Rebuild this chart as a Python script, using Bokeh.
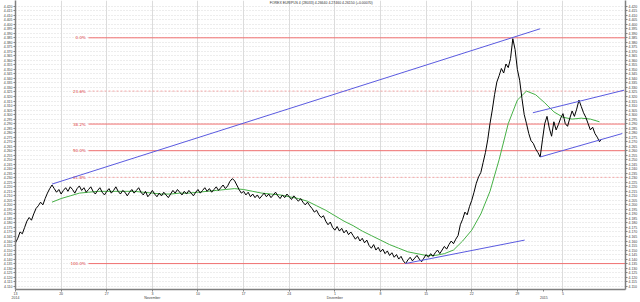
from bokeh.plotting import figure
from bokeh.models import (LinearAxis, Range1d, FixedTicker, Label,
                          PrintfTickFormatter)
from bokeh.embed import file_html
from bokeh.resources import INLINE
from bokeh.core.properties import value

TITLE = "FOREX EUR/PLN 4 (28033) 4.26640 4.27460 4.26150 (+0.00070)"

# ---- data (x = trading days since start, 0.25 day steps) ----
DAY_STEP = 0.25
price = [
    # rise at start
    4.158, 4.163, 4.170, 4.168, 4.175, 4.182, 4.186, 4.183, 4.190, 4.196,
    4.199, 4.203, 4.200, 4.207, 4.213, 4.218, 4.222,
    # sideways
    4.218, 4.214, 4.217, 4.212, 4.216, 4.219, 4.215, 4.220,
    4.217, 4.213, 4.218, 4.221, 4.216, 4.219, 4.214, 4.217,
    4.220, 4.215, 4.212, 4.216, 4.219, 4.214, 4.211, 4.215,
    4.218, 4.213, 4.216, 4.220, 4.215, 4.212, 4.216, 4.214,
    4.210, 4.214, 4.217, 4.213, 4.216, 4.219, 4.214, 4.211,
    4.215, 4.209, 4.212, 4.216, 4.212, 4.209, 4.213, 4.210,
    4.214, 4.211, 4.208, 4.212, 4.216, 4.213, 4.217, 4.214,
    4.211, 4.215, 4.212, 4.216, 4.213, 4.210, 4.214, 4.217,
    4.213, 4.216, 4.219, 4.215, 4.218, 4.214, 4.217, 4.220,
    4.216, 4.219, 4.222, 4.218, 4.221, 4.226, 4.229, 4.227,
    4.222, 4.217, 4.213, 4.215, 4.211, 4.214, 4.209, 4.212,
    4.208, 4.211, 4.207, 4.210, 4.213, 4.209, 4.212, 4.208,
    4.211, 4.214, 4.210, 4.207, 4.211, 4.208, 4.212, 4.209,
    4.206, 4.210, 4.207, 4.204, 4.207, 4.203, 4.200, 4.203,
    # decline
    4.199, 4.196, 4.192, 4.194, 4.189, 4.186, 4.188, 4.182,
    4.178, 4.181, 4.175, 4.172, 4.176, 4.171, 4.174, 4.169,
    4.172, 4.167, 4.170, 4.166, 4.162, 4.165, 4.160, 4.163,
    4.158, 4.161, 4.155, 4.152, 4.156, 4.150, 4.153, 4.148,
    4.151, 4.146, 4.149, 4.144, 4.147, 4.142, 4.145, 4.140,
    4.143, 4.138, 4.135, 4.139,
    # bottom
    4.142, 4.138, 4.141, 4.144, 4.140, 4.137, 4.141, 4.145,
    4.142, 4.146, 4.143, 4.147, 4.150, 4.146, 4.150, 4.154,
    4.151, 4.156, 4.160, 4.157, 4.162, 4.166,
    # rally
    4.178, 4.184, 4.192, 4.189, 4.198, 4.205, 4.214, 4.224,
    4.231, 4.236, 4.247, 4.258, 4.272, 4.290, 4.305, 4.322,
    4.336, 4.343, 4.351, 4.346, 4.356, 4.352, 4.362, 4.384,
    # drop
    4.372, 4.350, 4.338, 4.318, 4.300, 4.290, 4.279, 4.271,
    4.268, 4.262, 4.258, 4.253,
    # channel
    4.272, 4.290, 4.298, 4.285, 4.276, 4.292, 4.283, 4.289,
    4.296, 4.301, 4.290, 4.287, 4.296, 4.304, 4.298, 4.306,
    4.316, 4.309, 4.302, 4.297, 4.290, 4.283, 4.286, 4.279,
    4.275, 4.270, 4.273,
]
days = [i * DAY_STEP for i in range(len(price))]

ma_days = list(range(4, 65))
ma_values = [
    4.203, 4.207, 4.210, 4.213, 4.214, 4.215, 4.215, 4.215, 4.215, 4.215,
    4.214, 4.213, 4.212, 4.212, 4.213, 4.213, 4.214, 4.215, 4.216, 4.217,
    4.218, 4.217, 4.215, 4.213, 4.212, 4.211, 4.209, 4.207, 4.204, 4.199,
    4.194, 4.188, 4.182, 4.177, 4.171, 4.166, 4.161, 4.156, 4.152, 4.148,
    4.146, 4.144, 4.144, 4.146, 4.150, 4.160, 4.172, 4.190, 4.215, 4.250,
    4.290, 4.316, 4.326, 4.322, 4.313, 4.303, 4.297, 4.295, 4.296, 4.295,
    4.292,
]

week_ticks = [0, 5, 10, 15, 20, 25, 30, 35, 40, 45, 50, 55, 60]
week_labels = ["13", "20", "27", "3", "10", "17", "24", "1", "8", "15", "22", "29", "5"]
month_pos = [0, 15, 35, 57.9]
month_labels = ["2014", "November", "Dezember", "2015"]

y_tick_values = [round(4.100 + 0.005 * i, 3) for i in range(65)]

fib_high = 4.385
fib_low = 4.135
fib_pcts = [0.0, 23.6, 38.2, 50.0, 61.8, 100.0]
fib_labels = ["0.0%", "23.6%", "38.2%", "50.0%", "61.8%", "100.0%"]
fib_solid = [True, False, True, True, False, True]

trend_x0 = [4.0, 42.7, 56.7, 57.5]
trend_y0 = [4.223, 4.135, 4.302, 4.253]
trend_x1 = [57.5, 55.8, 66.7, 66.5]
trend_y1 = [4.395, 4.161, 4.327, 4.279]

X_MAX = 66.85
Y_MIN, Y_MAX = 4.1063, 4.4263
FIB_START = 8.0

# ---- figure ----
p = figure(width=640, height=302, output_backend="svg", toolbar_location=None,
           x_range=Range1d(0, X_MAX), y_range=Range1d(Y_MIN, Y_MAX),
           min_border_left=0, min_border_right=0, min_border_top=0,
           min_border_bottom=0, background_fill_color="white",
           border_fill_color="white", outline_line_color=None)

yt = FixedTicker(ticks=y_tick_values)
fmt = PrintfTickFormatter(format="%.3f")


def style_y(ax):
    ax.ticker = yt
    ax.formatter = fmt
    ax.major_label_text_font_size = "3.5px"
    ax.major_label_text_color = "#404040"
    ax.major_label_standoff = 1
    ax.major_tick_out = 2
    ax.major_tick_in = 0
    ax.minor_tick_out = 0
    ax.minor_tick_in = 0
    ax.major_tick_line_color = "#808080"
    ax.axis_line_color = "#808080"
    ax.axis_line_width = 1.5


style_y(p.yaxis[0])
ry = LinearAxis()
style_y(ry)
p.add_layout(ry, "right")

# time axis: day numbers, with month / year on a second text line
lbl = {t: l for t, l in zip(week_ticks, week_labels)}
for mp, ml in zip(month_pos, month_labels):
    lbl[mp] = lbl.get(mp, "") + "\n" + ml
xa = p.xaxis[0]
xa.ticker = FixedTicker(ticks=sorted(lbl.keys()))
xa.major_label_overrides = lbl
xa.major_label_text_font_size = "3.5px"
xa.major_label_text_color = "#404040"
xa.major_label_text_line_height = 1.0
xa.major_label_standoff = 0
xa.axis_label_standoff = 0
xa.major_tick_out = 2
xa.major_tick_in = 0
xa.minor_tick_out = 0
xa.minor_tick_in = 0
xa.major_tick_line_color = "#808080"
xa.axis_line_color = "#808080"
xa.axis_line_width = 1.5
xa.major_label_text_align = "left"

p.xgrid.ticker = FixedTicker(ticks=week_ticks)
p.xgrid.grid_line_color = "#dcdcdc"
p.xgrid.grid_line_width = 1
p.ygrid.ticker = yt
p.ygrid.grid_line_color = "#dadada"
p.ygrid.grid_line_dash = "1 2"

# fibonacci levels
fib_levels = [fib_high - pc / 100.0 * (fib_high - fib_low) for pc in fib_pcts]
solid_y = [y for y, s in zip(fib_levels, fib_solid) if s]
dash_y = [y for y, s in zip(fib_levels, fib_solid) if not s]
p.segment(x0=[FIB_START] * len(solid_y), x1=[X_MAX] * len(solid_y),
          y0=solid_y, y1=solid_y, line_color="#f07070", line_width=1)
p.segment(x0=[FIB_START] * len(dash_y), x1=[X_MAX] * len(dash_y),
          y0=dash_y, y1=dash_y, line_color="#f4a6a6", line_width=1,
          line_dash="2 2")
p.text(x=[FIB_START - 0.3] * len(fib_levels), y=fib_levels, text=fib_labels,
       text_align="right", text_baseline="middle", text_font_size="4px",
       text_color="#e04040", text_font=value("DejaVu Sans"))

# moving average and price
p.line(ma_days, ma_values, line_color="#45b045", line_width=1)
p.line(days, price, line_color="black", line_width=1)

# trend lines
p.segment(x0=trend_x0, y0=trend_y0, x1=trend_x1, y1=trend_y1,
          line_color="#5a5ae0", line_width=1)

# title
p.add_layout(Label(x=33.5, y=4.4255, text=TITLE, text_align="center",
                   text_baseline="top", text_font_size="3.5px",
                   text_color="#303030"))

open("out.html", "w").write(file_html(p, INLINE))
